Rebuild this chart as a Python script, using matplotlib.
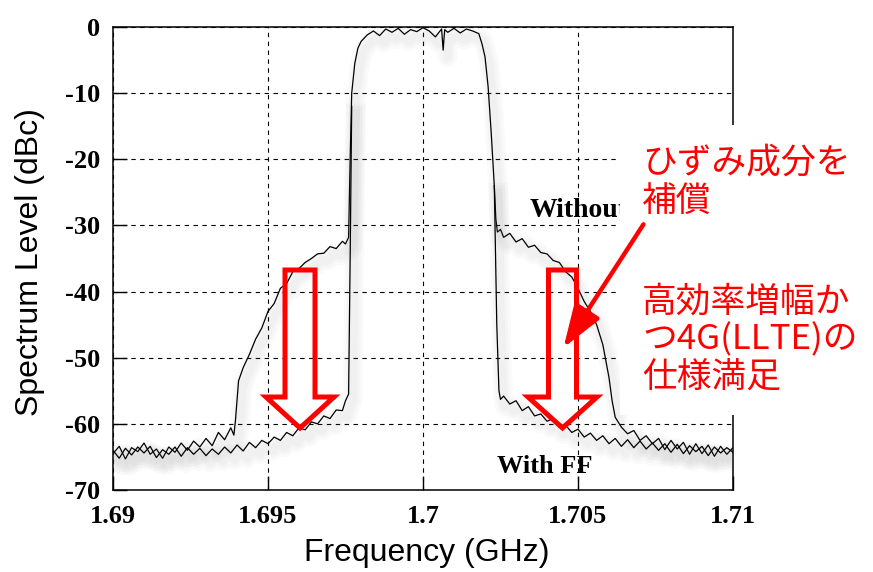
import numpy as np
import matplotlib
matplotlib.use("Agg")
import matplotlib.pyplot as plt
import matplotlib.patheffects as pe
from matplotlib.patches import Polygon, Rectangle, FancyArrowPatch

plt.rcParams["axes.unicode_minus"] = False

# spectrum without feed-forward (GHz, dBc)
wo_f = [1.6900, 1.6902, 1.6904, 1.6906, 1.6908, 1.6910, 1.6912, 1.6914, 1.6916, 1.6918,
        1.6920, 1.6922, 1.6924, 1.6926, 1.6928, 1.6930, 1.6932, 1.6934, 1.6936, 1.6938,
        1.6939, 1.69395, 1.6940, 1.69405, 1.6942, 1.6944, 1.6946, 1.6948, 1.6950, 1.6952,
        1.6954, 1.6956, 1.6958, 1.6960, 1.6962, 1.6964, 1.6966, 1.6968, 1.6970, 1.6972,
        1.6974, 1.6975, 1.6976, 1.69765, 1.6977, 1.6978, 1.6979, 1.6980, 1.6982, 1.6984,
        1.6986, 1.6988, 1.6990, 1.6992, 1.6994, 1.6996, 1.6998, 1.7000, 1.7002, 1.7004,
        1.7006, 1.70065, 1.7007, 1.7008, 1.7010, 1.7012, 1.7014, 1.7016, 1.7018, 1.7019,
        1.7020, 1.7021, 1.7022, 1.7023, 1.70235, 1.7024, 1.7025, 1.7026, 1.7028, 1.7030,
        1.7032, 1.7034, 1.7036, 1.7038, 1.7040, 1.7042, 1.7044, 1.7046, 1.7048, 1.7050,
        1.7052, 1.7054, 1.7056, 1.7058, 1.7060, 1.7061, 1.7062, 1.7064, 1.7066, 1.7068,
        1.7070, 1.7072, 1.7074, 1.7076, 1.7078, 1.7080, 1.7082, 1.7084, 1.7086, 1.7088,
        1.7090, 1.7092, 1.7094, 1.7096, 1.7098, 1.7100]
wo_db = [-64.5, -63.4, -65.3, -63.6, -64.2, -62.9, -64.6, -63.8, -65.2, -63.5,
         -64.3, -62.9, -64.0, -62.6, -63.5, -62.2, -63.3, -61.3, -62.4, -60.6,
         -61.7, -59.5, -56.5, -53.5, -51.5, -49.5, -47.2, -45.5, -43.0, -41.8,
         -39.5, -38.8, -37.0, -36.5, -35.6, -35.0, -34.3, -34.2, -33.2, -33.5,
         -32.4, -32.8, -31.8, -20.0, -10.0, -5.5, -3.2, -2.2, -1.2, -0.6,
         -1.3, -0.3, -0.8, -0.2, -1.1, -0.4, -0.7, -0.1, -0.6, -1.5,
         -0.3, -3.5, -0.4, -0.8, -0.2, -0.9, -0.3, -0.6, -1.0, -2.5,
         -4.5, -9.0, -16.0, -24.0, -29.0, -31.0, -30.6, -31.8, -31.2, -32.5,
         -32.0, -33.3, -33.0, -34.1, -34.3, -35.3, -35.6, -37.0, -37.8, -39.5,
         -41.5, -43.0, -45.0, -48.0, -53.0, -56.5, -59.0, -60.5, -61.5, -61.0,
         -62.5, -61.8, -63.0, -62.2, -63.9, -62.5, -63.8, -62.8, -64.6, -63.0,
         -64.5, -63.2, -64.9, -63.4, -64.6, -63.6]

# spectrum with feed-forward, lower and upper skirts
ffl_f = [1.6900, 1.6902, 1.6904, 1.6906, 1.6908, 1.6910, 1.6912, 1.6914, 1.6916, 1.6918,
         1.6920, 1.6922, 1.6924, 1.6926, 1.6928, 1.6930, 1.6932, 1.6934, 1.6936, 1.6938,
         1.6940, 1.6942, 1.6944, 1.6946, 1.6948, 1.6950, 1.6952, 1.6954, 1.6956, 1.6958,
         1.6960, 1.6962, 1.6964, 1.6966, 1.6968, 1.6970, 1.6972, 1.6974, 1.6975, 1.6976,
         1.69765, 1.6977]
ffl_db = [-64.0, -65.2, -63.7, -64.7, -63.5, -64.4, -63.4, -65.1, -63.9, -64.6,
          -63.5, -64.9, -63.6, -64.6, -63.7, -64.8, -63.8, -64.6, -63.5, -64.4,
          -63.2, -64.1, -62.8, -63.6, -62.5, -63.0, -62.0, -62.5, -61.3, -61.8,
          -60.6, -60.9, -59.7, -60.0, -58.8, -59.2, -57.9, -58.0, -56.5, -55.5,
          -35.0, -12.0]
ffr_f = [1.7023, 1.70238, 1.70245, 1.7025, 1.7026, 1.7028, 1.7030, 1.7032, 1.7034, 1.7036,
         1.7038, 1.7040, 1.7042, 1.7044, 1.7046, 1.7048, 1.7050, 1.7052, 1.7054, 1.7056,
         1.7058, 1.7060, 1.7062, 1.7064, 1.7066, 1.7068, 1.7070, 1.7072, 1.7074, 1.7076,
         1.7078, 1.7080, 1.7082, 1.7084, 1.7086, 1.7088, 1.7090, 1.7092, 1.7094, 1.7096,
         1.7098, 1.7100]
ffr_db = [-24.0, -45.0, -55.0, -56.3, -55.8, -57.0, -56.5, -58.0, -57.4, -58.8,
          -58.5, -59.6, -59.2, -60.5, -60.2, -61.3, -60.8, -62.0, -61.4, -62.5,
          -61.8, -63.0, -62.2, -63.4, -62.4, -63.6, -62.6, -63.8, -62.9, -64.0,
          -63.0, -64.3, -63.1, -64.5, -63.3, -64.2, -63.4, -64.8, -63.5, -64.4,
          -63.6, -64.3]

x_ticks = [1.69, 1.695, 1.7, 1.705, 1.71]
x_labels = ["1.69", "1.695", "1.7", "1.705", "1.71"]
y_ticks = [0, -10, -20, -30, -40, -50, -60, -70]
note_lines = ["ひずみ成分を", "補償", "高効率増幅か", "つ4G(LLTE)の", "仕様満足"]

W, H = 873, 572


def px(x, y):
    # pixel position (from top-left) -> figure fraction
    return (x / W, 1 - y / H)


# soft grey drop shadow under the traces (stacked strokes to fake a blur)
shadow = [pe.Stroke(linewidth=w, foreground="0.45", alpha=0.035, offset=(3, -5))
          for w in (14, 10, 6)] + [pe.Normal()]

fig = plt.figure(figsize=(W / 100, H / 100), dpi=100)
ax = fig.add_axes([113 / W, 1 - 490 / H, 620 / W, 463 / H])

for f, d in [(wo_f, wo_db), (ffl_f, ffl_db), (ffr_f, ffr_db)]:
    ax.plot(f, d, color="black", lw=0.9, zorder=3, path_effects=shadow)

ax.set_xlim(1.69, 1.71)
ax.set_ylim(-70, 0)
ax.set_xticks(x_ticks)
ax.set_xticklabels(x_labels)
ax.set_yticks(y_ticks)
ax.grid(True, color="black", ls=(0, (4, 4)), lw=0.8)
ax.tick_params(direction="in", length=10, width=1.0)
ax.tick_params(axis="y", pad=9)
ax.tick_params(axis="x", pad=11)
for lab in ax.get_xticklabels() + ax.get_yticklabels():
    lab.set_fontfamily("Liberation Serif")
    lab.set_fontweight("bold")
    lab.set_fontsize(19)
for s in ax.spines.values():
    s.set_linewidth(1.1)

ax.text(1.70345, -27.7, "Without", family="Liberation Serif", weight="bold",
        fontsize=20, va="center", ha="left")
ax.text(1.70240, -66.5, "With FF", family="Liberation Serif", weight="bold",
        fontsize=19, va="center", ha="left")

fig.text(*px(427, 553), "Frequency (GHz)", family="Liberation Sans", fontsize=23,
         ha="center", va="center")
fig.text(*px(30, 262), "Spectrum Level (dBc)", family="Liberation Sans", fontsize=23,
         ha="center", va="center", rotation=90)

# hollow red arrows
for cx, hw, bw in [(300, 15, 34), (562.5, 14, 34.5)]:
    pts = [(cx - hw, 270), (cx + hw, 270), (cx + hw, 397), (cx + bw, 397),
           (cx, 428), (cx - bw, 397), (cx - hw, 397)]
    fig.add_artist(Polygon([px(a, b) for a, b in pts], closed=True, fill=False,
                           edgecolor="#ff0000", lw=3.6, joinstyle="miter",
                           transform=fig.transFigure, zorder=4))

# white note box
fig.add_artist(Rectangle(px(620, 415), 253 / W, 290 / H, facecolor="white",
                         edgecolor="none", transform=fig.transFigure, zorder=5))
fig.add_artist(FancyArrowPatch(px(645, 222), px(562, 350), transform=fig.transFigure,
                               arrowstyle="-|>,head_length=1.3,head_width=0.45",
                               mutation_scale=20, color="#ff0000", lw=3.2, zorder=6))
for (ty, line) in zip([163, 202, 302, 340, 378], note_lines):
    fig.text(*px(642, ty), line, family=["Noto Sans CJK JP", "DejaVu Sans"],
             fontsize=25, color="#ff0000", ha="left", va="center", zorder=7)

fig.savefig("out.png", dpi=100)
